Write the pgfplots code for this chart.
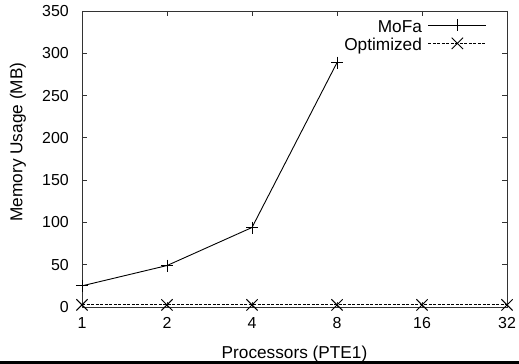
\documentclass[border=0pt]{standalone}
\usepackage{fontspec}
\setmainfont{Liberation Sans}
\usepackage{pgfplots}
\pgfplotsset{compat=1.18}
\begin{document}
\begin{tikzpicture}
\begin{axis}[name=ax, at={(0,0)}, anchor=south west,
  scale only axis, width=425bp, height=296bp,
  xmode=log, log basis x=2, xmin=1, xmax=32, ymin=0, ymax=350,
  xtick={1,2,4,8,16,32}, xticklabels={1,2,4,8,16,32},
  ytick={0,50,100,150,200,250,300,350},
  minor tick num=0,
  tick align=inside, xtick pos=both, ytick pos=both, major tick length=5bp,
  axis line style={black!80, line width=0.9bp},
  every tick/.style={black!80, line width=0.8bp},
  /pgf/number format/assume math mode=true,
  ticklabel style={font=\fontsize{16}{18}\selectfont, inner sep=0pt},
  xticklabel style={anchor=base, yshift=-21.3bp},
  yticklabel style={anchor=east, xshift=-13bp},
  legend plot pos=right,
  legend cell align=right,
  legend style={draw=none, fill=none, at={(rel axis cs:1,1)}, anchor=north east,
    xshift=-17bp, yshift=-6bp, font=\fontsize{17.3}{20}\selectfont,
    column sep=6bp, row sep=1.5bp,
    nodes={inner sep=0pt, text height=12.5bp, text depth=3.5bp}},
  legend image code/.code={\draw[mark repeat=2,mark phase=2,yshift=3bp] plot coordinates {(0bp,0bp) (29bp,0bp) (58bp,0bp)};},
]
\addplot[black, line width=0.9bp, mark=+, mark size=6bp, mark options={solid, line width=0.9bp}]
  coordinates {(1,25) (2,49) (4,94) (8,289)};
\addlegendentry{MoFa}
\addplot[black, line width=0.9bp, dash pattern=on 3bp off 1.5bp, mark=x, mark size=8bp, mark options={solid, line width=0.9bp}]
  coordinates {(1,2.5) (2,2.5) (4,2.5) (8,2.5) (16,2.5) (32,2.5)};
\addlegendentry{Optimized}
\end{axis}
\node[rotate=90, font=\fontsize{17.3}{20}\selectfont, inner sep=0pt] at ([xshift=-64bp,yshift=165bp]ax.south west) {Memory Usage (MB)};
\node[anchor=base, font=\fontsize{17.3}{20}\selectfont, inner sep=0pt] at ([yshift=-51.3bp]ax.south) {Processors (PTE1)};
\draw[line width=3bp] ([xshift=-82bp,yshift=-55.5bp]ax.south west) -- ([xshift=12bp,yshift=-55.5bp]ax.south east);
\pgfresetboundingbox
\useasboundingbox ([xshift=-82bp,yshift=-57bp]ax.south west) rectangle ([xshift=12bp,yshift=11bp]ax.north east);
\end{tikzpicture}
\end{document}
